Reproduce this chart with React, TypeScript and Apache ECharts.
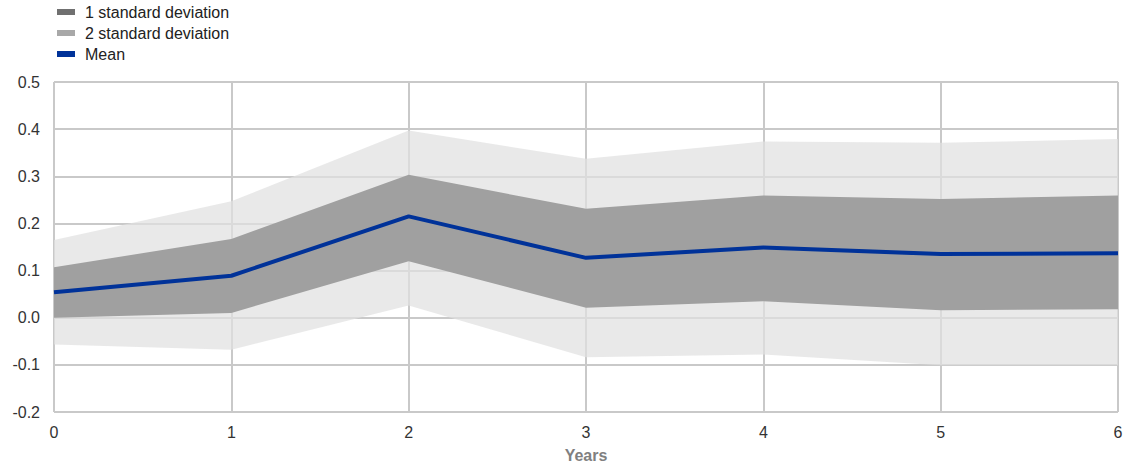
import React, { useEffect, useRef } from "react";
import * as echarts from "echarts";

// Horizon in years
const years = ["0", "1", "2", "3", "4", "5", "6"];

// Mean response
const meanValues = [0.054, 0.089, 0.215, 0.127, 0.149, 0.135, 0.137];

// One standard deviation band
const oneSdLower = [0.0, 0.01, 0.12, 0.021, 0.035, 0.016, 0.018];
const oneSdUpper = [0.107, 0.167, 0.303, 0.231, 0.259, 0.252, 0.259];

// Two standard deviation band
const twoSdLower = [-0.057, -0.068, 0.026, -0.084, -0.078, -0.101, -0.101];
const twoSdUpper = [0.165, 0.247, 0.397, 0.337, 0.374, 0.371, 0.379];

const yMin = -0.2;
const yMax = 0.5;
const yStep = 0.1;

const FONT = "Liberation Sans, Arial, sans-serif";
const GRID_COLOR = "#c9c9c9";

export default function App() {
  const ref = useRef<HTMLDivElement>(null);

  useEffect(() => {
    if (!ref.current) return;
    const chart = echarts.init(ref.current, undefined, { renderer: "svg", width: 1124, height: 463 });

    const diff = (hi: number[], lo: number[]) => hi.map((v, i) => +(v - lo[i]).toFixed(4));

    chart.setOption({
      animation: false,
      legend: {
        orient: "vertical",
        left: 57,
        top: 4,
        padding: 0,
        itemWidth: 18,
        itemHeight: 6,
        itemGap: 5,
        textStyle: { fontFamily: FONT, fontSize: 16, color: "#222", lineHeight: 16, padding: [0, 0, 0, 5] },
        selectedMode: false,
        data: [
          { name: "1 standard deviation", icon: "rect", itemStyle: { color: "#707070" } },
          { name: "2 standard deviation", icon: "rect", itemStyle: { color: "#a8a8a8" } },
          { name: "Mean", icon: "rect", itemStyle: { color: "#003299" } },
        ],
      },
      grid: { left: 54, right: 6, top: 82, bottom: 51, containLabel: false, outerBoundsMode: "none" },
      xAxis: {
        type: "category",
        data: years,
        boundaryGap: false,
        name: "Years",
        nameLocation: "middle",
        nameGap: 35,
        nameTextStyle: { fontFamily: FONT, fontSize: 16, fontWeight: "bold", color: "#808080" },
        axisLine: { lineStyle: { color: GRID_COLOR, width: 2 } },
        axisTick: { show: false },
        axisLabel: { fontFamily: FONT, fontSize: 16, color: "#333", margin: 12 },
        splitLine: { show: true, lineStyle: { color: GRID_COLOR, width: 2 } },
      },
      yAxis: {
        type: "value",
        min: yMin,
        max: yMax,
        interval: yStep,
        axisLine: { show: false },
        axisTick: { show: false },
        axisLabel: {
          fontFamily: FONT,
          fontSize: 16,
          color: "#333",
          margin: 14,
          formatter: (v: number) => v.toFixed(1),
        },
        splitLine: { show: true, lineStyle: { color: GRID_COLOR, width: 2 } },
      },
      series: [
        {
          name: "2sd base",
          type: "line",
          stack: "twoSd",
          stackStrategy: "all",
          data: twoSdLower,
          symbol: "none",
          lineStyle: { opacity: 0 },
          silent: true,
        },
        {
          name: "2 standard deviation",
          type: "line",
          stack: "twoSd",
          stackStrategy: "all",
          data: diff(twoSdUpper, twoSdLower),
          symbol: "none",
          lineStyle: { opacity: 0 },
          itemStyle: { color: "#a8a8a8" },
          areaStyle: { color: "rgba(225,225,225,0.73)", opacity: 1 },
          silent: true,
        },
        {
          name: "1sd base",
          type: "line",
          stack: "oneSd",
          stackStrategy: "all",
          data: oneSdLower,
          symbol: "none",
          lineStyle: { opacity: 0 },
          silent: true,
        },
        {
          name: "1 standard deviation",
          type: "line",
          stack: "oneSd",
          stackStrategy: "all",
          data: diff(oneSdUpper, oneSdLower),
          symbol: "none",
          lineStyle: { opacity: 0 },
          itemStyle: { color: "#707070" },
          areaStyle: { color: "#a0a0a0", opacity: 1 },
          silent: true,
        },
        {
          name: "Mean",
          type: "line",
          data: meanValues,
          symbol: "none",
          lineStyle: { color: "#003299", width: 4 },
          itemStyle: { color: "#003299" },
          z: 5,
        },
      ],
    });

    return () => chart.dispose();
  }, []);

  return (
    <div
      ref={ref}
      style={{ position: "fixed", left: 0, top: 0, width: 1124, height: 463, background: "#fff" }}
    />
  );
}
